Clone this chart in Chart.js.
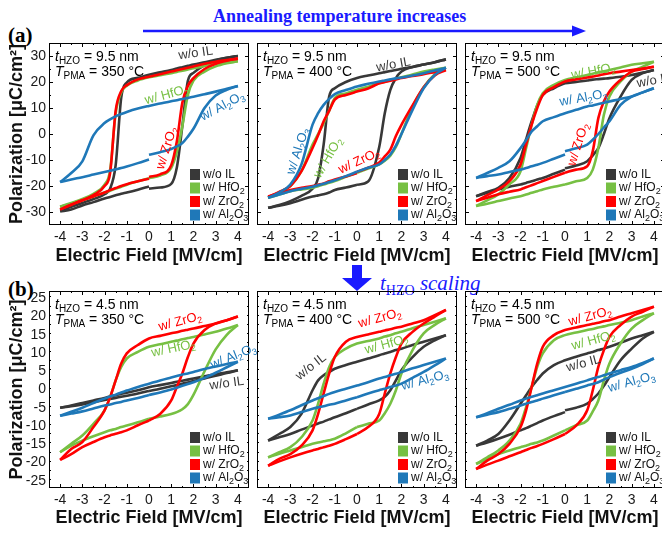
<!DOCTYPE html>
<html>
<head>
<meta charset="utf-8">
<script src="https://cdn.jsdelivr.net/npm/chart.js@4.4.0/dist/chart.umd.min.js"></script>
<style>
body { margin: 0; width: 662px; height: 535px; overflow: hidden; position: relative; background: #fff; }
canvas { position: absolute; }
.serif { position: absolute; font-family: "Liberation Serif", "Times New Roman", serif; font-weight: bold; line-height: 1; white-space: nowrap; }
</style>
</head>
<body>
<div class="serif" style="left:8px;top:25px;font-size:21px">(a)</div>
<div class="serif" style="left:213px;top:7px;font-size:18px;color:#1a1aff">Annealing temperature increases</div>
<div class="serif" style="left:8px;top:279px;font-size:21px">(b)</div>
<div class="serif" style="left:380px;top:273px;font-size:21px;font-weight:normal;font-style:italic;color:#1a1aff">t<span style="font-style:normal;font-size:14px;position:relative;top:5px">HZO</span> scaling</div>
<svg width="662" height="535" style="position:absolute;left:0;top:0">
  <line x1="143" y1="31" x2="574" y2="31" stroke="#1a1aff" stroke-width="2.5"/>
  <polygon points="572,25.5 586,31 572,36.5" fill="#1a1aff"/>
  <rect x="352" y="265" width="10" height="13" fill="#1a1aff"/>
  <polygon points="342,278 372,278 357,291" fill="#1a1aff"/>
</svg>
<canvas id="c1" width="262" height="268" style="left:0;top:0"></canvas>
<canvas id="c2" width="210" height="268" style="left:252px;top:0"></canvas>
<canvas id="c3" width="210" height="268" style="left:460px;top:0"></canvas>
<canvas id="c4" width="262" height="267" style="left:0;top:268px"></canvas>
<canvas id="c5" width="210" height="267" style="left:252px;top:268px"></canvas>
<canvas id="c6" width="210" height="267" style="left:460px;top:268px"></canvas>
<script>
// Electric field grid [MV/cm] used for every branch
const E = [-4, -3.5, -3, -2.5, -2, -1.75, -1.5, -1.25, -1, -0.5, 0, 0.5, 1, 1.25, 1.5, 1.75, 2, 2.5, 3, 3.5, 4];
const xTicks = [-4, -3, -2, -1, 0, 1, 2, 3, 4];
const yTicksA = [-30, -20, -10, 0, 10, 20, 30];
const yTicksB = [-25, -20, -15, -10, -5, 0, 5, 10, 15, 20, 25];
const seriesNames = ['w/o IL', 'w/ HfO2', 'w/ ZrO2', 'w/ Al2O3'];

// up = sweep +4 -> -4, lo = sweep -4 -> +4 (value at 0 = end of sweep), start = P at 0 where the sweep began
// (a) 9.5 nm, 350 C
const a350_woIL_up = [-29.5, -28, -26.5, -25, -23.2, -21, -12, 14, 19.8, 21.6, 22.8, 23.7, 24.6, 25.2, 25.7, 26.2, 26.7, 27.6, 28.5, 29.3, 30];
const a350_woIL_lo = [-29.8, -29, -27.5, -26.2, -24.8, -24.2, -23.6, -23, -22.5, -21.4, -20.2, -20.6, -19.2, -13, 3, 20.5, 23.5, 26.5, 28.3, 29.3, 30];
const a350_hfo_up = [-28, -26.5, -25, -23, -19.5, -14, 8, 16, 18.6, 20.6, 21.8, 22.6, 23.4, 23.9, 24.3, 24.8, 25.3, 26.2, 27, 27.5, 28];
const a350_hfo_lo = [-28, -26.8, -25.5, -24, -22.5, -21.8, -21, -20.3, -19.5, -18.2, -17, -16, -13, -7, 3, 15, 20.5, 24, 26, 27.2, 28];
const a350_zro_up = [-29, -27.2, -25.5, -23.5, -20, -15, 9, 16.5, 18.8, 21, 22, 23, 24, 24.5, 25, 25.5, 26, 27, 27.8, 28.4, 29];
const a350_zro_lo = [-29, -27.2, -25.5, -24, -22.5, -21.6, -20.8, -20, -19.3, -18.2, -17.2, -15.5, -12, -3, 12, 18.5, 21.5, 25, 27, 28.2, 29];
const a350_alo_up = [-18.5, -15, -10.5, -0.5, 4.2, 5.6, 6.8, 7.7, 8.5, 9.8, 10.8, 11.7, 12.6, 13, 13.5, 13.9, 14.3, 15.3, 16.3, 17.4, 18.5];
const a350_alo_lo = [-18.5, -17.5, -16.6, -15.6, -14.6, -14.1, -13.6, -13.1, -12.5, -11.2, -9.8, -7, -5.8, -4.8, -3.5, -1, 2, 10, 14.8, 17, 18.5];
const a350_start = [-21, -17, -16.5, -8];

// (a) 9.5 nm, 400 C
const a400_woIL_up = [-28.4, -27.3, -25.8, -23.8, -21, -17, -4, 14.5, 17.6, 20, 21.5, 22.5, 23.4, 23.8, 24.2, 24.6, 25.1, 25.8, 26.7, 27.6, 28.7];
const a400_woIL_lo = [-28.4, -27.6, -26.6, -25.3, -24, -23.6, -23.2, -22.5, -21.5, -20.6, -19.5, -18.3, -5, 8, 17, 21.5, 24, 25.8, 26.7, 27.6, 28.7];
const a400_hfo_up = [-24.5, -22.5, -20, -14.3, -4.1, 0, 4.2, 9, 13.8, 15.6, 17, 18.2, 19.5, 20.1, 20.7, 21.2, 21.8, 22.9, 24, 24.8, 25.5];
const a400_hfo_lo = [-24.5, -23.3, -22, -21.3, -20.7, -20.1, -19.4, -18.8, -18.1, -16.5, -14.9, -13.3, -11.7, -10.3, -8.3, -5, 0, 10.5, 18, 23, 25.5];
const a400_zro_up = [-24.3, -22.3, -20, -14.3, -5.4, -0.5, 4.9, 9, 13.2, 15, 16.3, 17.5, 19.5, 20, 20.5, 21, 21.5, 22.3, 23, 23.8, 24.6];
const a400_zro_lo = [-24, -22.7, -21.5, -20.7, -20, -19.5, -19, -18.2, -17.5, -16.3, -15, -13, -11, -8.6, -6, -0.8, 3.5, 11, 18, 22.5, 24.6];
const a400_alo_up = [-24.5, -22.5, -19.4, -11.7, 3.6, 8, 11.2, 13.5, 15.3, 16.9, 18.3, 19.3, 20.2, 20.6, 21, 21.4, 21.7, 22.5, 23.4, 24.4, 25.5];
const a400_alo_lo = [-24.5, -23.3, -22, -21.1, -20.3, -19.7, -19.1, -18.5, -17.8, -16.2, -14.5, -13, -11.7, -10, -7.9, -4.5, 0, 9.3, 17.6, 22.7, 25.5];
const a400_start = [-19.5, -14.9, -14.5, -14.5];

// (a) 9.5 nm, 500 C
const a500_woIL_up = [-23.9, -22.3, -20.7, -16.9, -9.2, -2, 4.9, 11, 15, 17.6, 19.5, 20, 20.6, 20.9, 21.1, 21.3, 21.5, 22, 22.7, 23.6, 24.6];
const a500_woIL_lo = [-23.9, -22.6, -21.3, -20.3, -19.4, -18.8, -18.2, -17.5, -16.9, -15.3, -13.7, -12.1, -10.5, -8.2, -5.4, 0, 6.1, 14.4, 20.8, 23.4, 24.6];
const a500_hfo_up = [-27.7, -25.5, -23.2, -19.4, -14.3, -5.4, 3.6, 11.2, 15.7, 18.9, 20.8, 21.8, 22.7, 23.2, 23.7, 24.1, 24.6, 25.6, 26.6, 27.2, 27.8];
const a500_hfo_lo = [-27.7, -26.8, -25.8, -24.8, -23.9, -23.3, -22.6, -22, -21.3, -20.3, -19.4, -18.2, -16.9, -13.7, -5.4, 7.4, 14.4, 20.2, 24, 25.9, 27.8];
const a500_zro_up = [-25.8, -23.5, -21.3, -18.1, -11.7, -4, 3.6, 10, 15, 18, 20.2, 21, 21.7, 22.1, 22.5, 23, 23.4, 24, 24.6, 25.2, 25.9];
const a500_zro_lo = [-25.8, -24.5, -23.2, -22.2, -21.3, -20.5, -19.7, -18.9, -18.1, -16.5, -14.9, -13.7, -12.4, -6.6, 6.1, 12.5, 16.3, 20.8, 24, 25, 25.9];
const a500_alo_up = [-16.9, -15, -13, -10.5, -5.4, -2.3, 1, 3, 4.9, 6.5, 8, 9.3, 10.6, 11, 11.5, 12, 12.5, 13.5, 14.4, 16, 17.6];
const a500_alo_lo = [-16.9, -16.2, -15.6, -14.6, -13.7, -13.1, -12.4, -11.8, -11.1, -9.5, -7.9, -5.5, -4.1, -2.2, 0, 2.5, 4.9, 11.2, 14.4, 16, 17.6];
const a500_start = [-13.2, -19.4, -14.9, -6.6];

// (b) 4.5 nm, 350 C
const b350_woIL_up = [-5, -4.4, -3.7, -3, -2.3, -1.9, -1.6, -1.2, -0.9, -0.2, 0.6, 1.2, 1.8, 2.1, 2.4, 2.7, 3, 3.6, 4.2, 4.7, 5.3];
const b350_woIL_lo = [-5, -4.6, -4.1, -3.5, -2.9, -2.6, -2.3, -2, -1.7, -1.1, -0.4, 0.2, 0.9, 1.2, 1.6, 1.9, 2.3, 3, 3.8, 4.5, 5.3];
const b350_hfo_up = [-17.2, -14.9, -12.6, -9.4, -5.7, -2.1, 2.5, 6.2, 8.5, 10.3, 11.7, 12.4, 13.1, 13.4, 13.8, 14.1, 14.4, 15.1, 15.8, 16.7, 17.7];
const b350_hfo_lo = [-17.2, -15.4, -14, -12.8, -11.7, -11.2, -10.8, -10.3, -9.9, -9, -8, -7.4, -6.7, -6.2, -5.4, -4, -1.5, 5, 11, 15, 17.7];
const b350_zro_up = [-19.3, -16.3, -14.4, -10.3, -5.7, -2.1, 2.5, 7.1, 9.9, 12.2, 14, 14.7, 15.4, 15.7, 16.1, 16.4, 16.7, 17.4, 18.1, 19, 20];
const b350_zro_lo = [-19.3, -17.7, -15.8, -14.4, -13.1, -12.6, -12.1, -11.7, -11.2, -9.8, -8.5, -6.7, -3, 0.7, 4.4, 8.9, 12.6, 16.3, 18.1, 19, 20];
const b350_alo_up = [-7.2, -6.1, -5, -3.7, -2.5, -1.9, -1.4, -0.8, -0.3, 0.7, 1.6, 2.5, 3.3, 3.7, 4.1, 4.4, 4.8, 5.6, 6.3, 7, 7.6];
const b350_alo_lo = [-7.2, -6.6, -6, -5.2, -4.4, -4.1, -3.7, -3.4, -3, -2.3, -1.5, -0.8, 0, 0.5, 1, 1.5, 2, 3.2, 4.6, 6.1, 7.6];
const b350_start = [-0.4, -8, -8.5, -1.5];

// (b) 4.5 nm, 400 C
const b400_woIL_up = [-14, -12.2, -10.3, -6.7, -0.2, 2.5, 3.9, 4.8, 5.7, 6.7, 7.6, 8.5, 9.4, 9.9, 10.3, 10.8, 11.2, 12.2, 13.1, 14, 14.9];
const b400_woIL_lo = [-14, -13.1, -12.2, -11, -9.9, -9.3, -8.8, -8.2, -7.6, -6.5, -5.3, -4.1, -3, -2, -0.2, 2.5, 5.3, 8.9, 11.7, 13.5, 14.9];
const b400_hfo_up = [-18.6, -17.2, -15.8, -13.1, -8.5, -3.9, 1.6, 6.2, 8.9, 11.2, 12.6, 13.3, 14, 14.5, 14.9, 15.4, 15.8, 16.8, 17.7, 18.6, 19.5];
const b400_hfo_lo = [-18.6, -17.6, -16.7, -15.8, -14.9, -14.5, -14.2, -13.9, -13.5, -12, -10.3, -9.4, -8.5, -6.5, -3.9, -0.2, 4.4, 10.8, 15.4, 17.7, 19.5];
const b400_zro_up = [-20.9, -19, -17.7, -15.4, -11.2, -6.7, -1.1, 4.4, 8.9, 13.1, 14.4, 15.1, 15.8, 16.2, 16.5, 16.9, 17.2, 18.1, 19, 20.4, 21.8];
const b400_zro_lo = [-20.9, -19.7, -18.6, -17.6, -16.7, -16.3, -15.8, -15.4, -14.9, -13.6, -12.2, -10.3, -6.7, -1.1, 4.4, 8.9, 12.6, 15.8, 18.1, 20, 21.8];
const b400_alo_up = [-8, -6.9, -5.7, -4.3, -3, -2.4, -1.8, -1.2, -0.7, 0.2, 1.1, 2, 3, 3.4, 3.9, 4.3, 4.8, 5.8, 6.7, 7.6, 8.5];
const b400_alo_lo = [-8, -7.6, -7.1, -6.2, -5.3, -4.9, -4.6, -4.2, -3.9, -3, -2.1, -1.1, -0.2, 0.2, 0.7, 1.1, 1.6, 3.2, 4.8, 6.6, 8.5];
const b400_start = [-5.3, -10.3, -12.2, -2.1];

// (b) 4.5 nm, 500 C
const b500_woIL_up = [-15.4, -14, -12.2, -8.5, -3.9, -1.6, 0.7, 2.6, 4.4, 6.7, 8, 9, 9.9, 10.3, 10.8, 11.2, 11.7, 12.8, 14, 14.9, 15.8];
const b500_woIL_lo = [-15.4, -14.5, -13.5, -12.4, -11.2, -10.6, -9.9, -9.2, -8.5, -7.3, -6.2, -5, -3.9, -2.6, -1.1, 1, 3.4, 8, 11.2, 14, 15.8];
const b500_hfo_up = [-20.4, -18.6, -16.7, -14, -9.4, -4.8, 0.7, 6.2, 9.9, 13.5, 14.9, 15.6, 16.3, 16.6, 17, 17.3, 17.7, 18.3, 19, 20, 20.9];
const b500_hfo_lo = [-20.4, -19, -17.7, -16.7, -15.8, -15.4, -14.9, -14.5, -14, -12.6, -11.2, -9.8, -8.5, -6, -3, 2.5, 7.1, 12.6, 16.7, 19, 20.9];
const b500_zro_up = [-21.8, -19.5, -17.7, -14.9, -10.3, -5.7, 0.7, 7.1, 11.7, 14.9, 16.3, 17, 17.7, 18, 18.3, 18.7, 19, 20, 20.9, 21.8, 22.7];
const b500_zro_lo = [-21.8, -20.6, -19.5, -18.3, -17.2, -16.6, -16, -15.5, -14.9, -13.6, -12.2, -9.9, -5.7, -0.2, 6.2, 10.8, 14.4, 17.7, 20, 21.3, 22.7];
const b500_alo_up = [-7.6, -6.5, -5.3, -4.2, -3, -2.5, -2, -1.6, -1.1, -0.2, 0.7, 1.6, 2.5, 3, 3.4, 3.9, 4.4, 5.3, 6.2, 7.3, 8.5];
const b500_alo_lo = [-7.6, -6.9, -6.2, -5.3, -4.4, -3.9, -3.4, -3, -2.5, -1.6, -0.7, 0.2, 1.1, 1.5, 2, 2.7, 3.4, 4.6, 5.7, 7, 8.5];
const b500_start = [-5.7, -11.2, -12.2, -0.7];

const colors = ['#383838', '#77c043', '#ff0000', '#1f78b8'];
const FONT = '"Liberation Sans", Arial, sans-serif';

// rich text pieces: n = normal, i = italic, s = subscript
const T_WOIL = [['w/o IL', 'n']];
const T_HFO = [['w/ HfO', 'n'], ['2', 's']];
const T_ZRO = [['w/ ZrO', 'n'], ['2', 's']];
const T_ALO = [['w/ Al', 'n'], ['2', 's'], ['O', 'n'], ['3', 's']];
const legendTexts = [T_WOIL, T_HFO, T_ZRO, T_ALO];

function fontFor(k, size) {
    if (k === 's') return Math.round(size * 0.72) + 'px ' + FONT;
    if (k === 'i') return 'italic ' + size + 'px ' + FONT;
    return size + 'px ' + FONT;
}

function drawRich(ctx, parts, x, y, rot, color, size, align) {
    ctx.save();
    ctx.translate(x, y);
    ctx.rotate(rot * Math.PI / 180);
    ctx.fillStyle = color;
    ctx.textBaseline = 'middle';
    ctx.textAlign = 'left';
    let w = 0;
    parts.forEach(([t, k]) => { ctx.font = fontFor(k, size); w += ctx.measureText(t).width; });
    let px = align === 'left' ? 0 : -w / 2;
    parts.forEach(([t, k]) => {
        ctx.font = fontFor(k, size);
        ctx.fillText(t, px, k === 's' ? size * 0.3 : 0);
        px += ctx.measureText(t).width;
    });
    ctx.restore();
}

// frame with inward ticks, curve labels, annotation and legend
const panelDecor = {
    id: 'panelDecor',
    afterDatasetsDraw(chart, args, opt) {
        const { ctx, chartArea: a, scales: { x, y } } = chart;
        ctx.save();
        ctx.strokeStyle = '#000';
        ctx.lineWidth = 1;
        ctx.beginPath();
        for (let v = -4; v <= 4; v += 0.5) {
            const px = Math.round(x.getPixelForValue(v)) + 0.5;
            const len = Number.isInteger(v) ? 4 : 2;
            ctx.moveTo(px, a.bottom); ctx.lineTo(px, a.bottom - len);
            ctx.moveTo(px, a.top); ctx.lineTo(px, a.top + len);
        }
        for (let v = -opt.ymax; v <= opt.ymax; v += opt.minor) {
            const py = Math.round(y.getPixelForValue(v)) + 0.5;
            if (py < a.top + 1 || py > a.bottom - 1) continue;
            const major = Math.abs(v / (opt.minor * 2) - Math.round(v / (opt.minor * 2))) < 1e-6;
            const len = major ? 4 : 2;
            ctx.moveTo(a.left, py); ctx.lineTo(a.left + len, py);
            ctx.moveTo(a.right, py); ctx.lineTo(a.right - len, py);
        }
        ctx.stroke();
        ctx.strokeRect(Math.round(a.left) + 0.5, Math.round(a.top) + 0.5, Math.round(a.right - a.left) - 1, Math.round(a.bottom - a.top) - 1);

        opt.labels.forEach(l => {
            drawRich(ctx, l[0], x.getPixelForValue(l[1]), y.getPixelForValue(l[2]), l[3], colors[l[4]], 13);
        });

        drawRich(ctx, [['t', 'i'], ['HZO', 's'], [' = ' + opt.thick, 'n']], a.left + 6, a.top + 14, 0, '#000', 14, 'left');
        drawRich(ctx, [['T', 'i'], ['PMA', 's'], [' = ' + opt.temp, 'n']], a.left + 6, a.top + 29, 0, '#000', 14, 'left');

        const lx = a.right - 59;
        seriesNames.forEach((n, i) => {
            const cy = a.bottom - 10 - (3 - i) * 13.5;
            ctx.fillStyle = colors[i];
            ctx.fillRect(lx, cy - 5.5, 10, 11);
            drawRich(ctx, legendTexts[i], lx + 13, cy, 0, '#111', 12, 'left');
        });
        ctx.restore();
    }
};

function branches(up, lo, start) {
    const upper = E.map((x, i) => ({ x: x, y: up[i] }));
    const lowerLeft = E.slice(0, 11).map((x, i) => ({ x: x, y: lo[i] }));
    const lowerRight = [{ x: 0, y: start }].concat(E.slice(11).map((x, i) => ({ x: x, y: lo[i + 11] })));
    return [lowerRight, upper, lowerLeft];
}

function makePanel(id, ups, los, starts, cfg) {
    const datasets = [];
    ups.forEach((up, s) => {
        branches(up, los[s], starts[s]).forEach(d => {
            datasets.push({
                label: seriesNames[s],
                data: d,
                showLine: true,
                borderColor: colors[s],
                borderWidth: 2.6,
                pointRadius: 0,
                cubicInterpolationMode: 'monotone',
                order: 4 - s
            });
        });
    });
    const bottomRow = cfg.row === 'b';
    new Chart(document.getElementById(id), {
        type: 'scatter',
        data: { datasets: datasets },
        options: {
            responsive: false,
            animation: false,
            events: [],
            layout: { padding: { top: bottomRow ? 23 : 43, left: cfg.left ? 0 : 5, right: cfg.padRight, bottom: 0 } },
            plugins: {
                legend: { display: false },
                tooltip: { enabled: false },
                panelDecor: {
                    ymax: bottomRow ? 27 : 35,
                    minor: bottomRow ? 2.5 : 5,
                    thick: cfg.thick,
                    temp: cfg.temp,
                    labels: cfg.labels
                }
            },
            scales: {
                x: {
                    type: 'linear',
                    min: -4.5,
                    max: 4.5,
                    afterBuildTicks: s => { s.ticks = xTicks.map(v => ({ value: v })); },
                    afterFit: s => { s.height = bottomRow ? 47 : 43; },
                    grid: { display: false, drawTicks: false },
                    border: { display: false },
                    ticks: { font: { size: 14, family: FONT }, color: '#1a1a1a', padding: 4, maxRotation: 0, autoSkip: false },
                    title: { display: true, text: 'Electric Field [MV/cm]', font: { size: 18, weight: 'bold', family: FONT }, color: '#111', padding: { top: 0, bottom: bottomRow ? 6 : 1 } }
                },
                y: {
                    type: 'linear',
                    display: cfg.left,
                    min: bottomRow ? -27 : -35,
                    max: bottomRow ? 27 : 35,
                    afterBuildTicks: s => { s.ticks = (bottomRow ? yTicksB : yTicksA).map(v => ({ value: v })); },
                    afterFit: s => { s.width = cfg.left ? 49 : 0; },
                    grid: { display: false, drawTicks: false },
                    border: { display: false },
                    ticks: { font: { size: 14, family: FONT }, color: '#1a1a1a', padding: 3, autoSkip: false },
                    title: { display: true, text: 'Polarization [\u03bcC/cm\u00b2]', font: { size: 18, weight: 'bold', family: FONT }, color: '#111', padding: { top: 6, bottom: 0 } }
                }
            }
        },
        plugins: [panelDecor]
    });
}

makePanel('c1',
    [a350_woIL_up, a350_hfo_up, a350_zro_up, a350_alo_up],
    [a350_woIL_lo, a350_hfo_lo, a350_zro_lo, a350_alo_lo], a350_start,
    { row: 'a', left: true, padRight: 13, thick: '9.5 nm', temp: '350 \u00b0C',
      labels: [[T_WOIL, 2.1, 31, -8, 0], [T_HFO, 0.8, 15, -15, 1], [T_ALO, 3.3, 10.6, -28, 3], [T_ZRO, 0.8, -5.4, -72, 2]] });
makePanel('c2',
    [a400_woIL_up, a400_hfo_up, a400_zro_up, a400_alo_up],
    [a400_woIL_lo, a400_hfo_lo, a400_zro_lo, a400_alo_lo], a400_start,
    { row: 'a', left: false, padRight: 5, thick: '9.5 nm', temp: '400 \u00b0C',
      labels: [[T_WOIL, 1.64, 26.6, -10, 0], [T_ALO, -2.65, -6.6, -72, 3], [T_HFO, -1.3, -9.2, -60, 1], [T_ZRO, 0.1, -10.5, -25, 2]] });
makePanel('c3',
    [a500_woIL_up, a500_hfo_up, a500_zro_up, a500_alo_up],
    [a500_woIL_lo, a500_hfo_lo, a500_zro_lo, a500_alo_lo], a500_start,
    { row: 'a', left: false, padRight: 5, thick: '9.5 nm', temp: '500 \u00b0C',
      labels: [[T_HFO, 1.28, 24, -10, 1], [T_ALO, 0.83, 13.8, -10, 3], [T_WOIL, 4.0, 20.5, -10, 0], [T_ZRO, 0.6, -4, -72, 2]] });
makePanel('c4',
    [b350_woIL_up, b350_hfo_up, b350_zro_up, b350_alo_up],
    [b350_woIL_lo, b350_hfo_lo, b350_zro_lo, b350_alo_lo], b350_start,
    { row: 'b', left: true, padRight: 13, thick: '4.5 nm', temp: '350 \u00b0C',
      labels: [[T_ZRO, 1.4, 18.6, -15, 2], [T_HFO, 1.1, 11.2, -12, 1], [T_ALO, 3.8, 9, -22, 3], [T_WOIL, 3.5, 1.6, -8, 0]] });
makePanel('c5',
    [b400_woIL_up, b400_hfo_up, b400_zro_up, b400_alo_up],
    [b400_woIL_lo, b400_hfo_lo, b400_zro_lo, b400_alo_lo], b400_start,
    { row: 'b', left: false, padRight: 5, thick: '4.5 nm', temp: '400 \u00b0C',
      labels: [[T_ZRO, 1.03, 19.5, -15, 2], [T_HFO, 1.33, 12.3, -15, 1], [T_WOIL, -2.07, 6.2, -38, 0], [T_ALO, 3.06, 2.5, -15, 3]] });
makePanel('c6',
    [b500_woIL_up, b500_hfo_up, b500_zro_up, b500_alo_up],
    [b500_woIL_lo, b500_hfo_lo, b500_zro_lo, b500_alo_lo], b500_start,
    { row: 'b', left: false, padRight: 5, thick: '4.5 nm', temp: '500 \u00b0C',
      labels: [[T_ZRO, 1.13, 20, -15, 2], [T_HFO, 1.28, 13.4, -15, 1], [T_WOIL, 0.83, 7.1, -15, 0], [T_ALO, 3, 2, -15, 3]] });
</script>
</body>
</html>
